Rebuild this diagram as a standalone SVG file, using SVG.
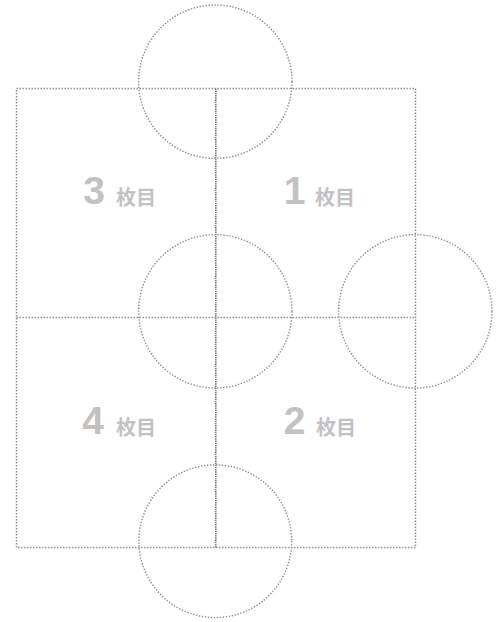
<svg xmlns="http://www.w3.org/2000/svg" width="504" height="622" viewBox="0 0 504 622">
<style>
.dot{fill:none;stroke:#8c8c8c;stroke-width:1.4;stroke-dasharray:1.4 1.6}
.vline{fill:none;stroke:#7a7a7a;stroke-width:1.6;stroke-dasharray:1.4 0.8}
.num{font-family:"Liberation Sans",Arial,sans-serif;font-weight:bold;font-size:39px;fill:#c2c2c2;text-anchor:middle}
.lbl{font-family:"Noto Sans CJK JP","Noto Sans",sans-serif;font-weight:bold;font-size:20px;fill:#c2c2c2}
</style>
<rect width="504" height="622" fill="#ffffff"/>
<g id="connectors">
<rect class="dot" x="16.5" y="88.5" width="399" height="459"/>
<line class="dot" x1="16.5" y1="317.5" x2="415.5" y2="317.5"/>
<line class="vline" x1="215.8" y1="88.5" x2="215.8" y2="547.5"/>
</g>
<g id="circle-top"><circle class="dot" cx="215.3" cy="81.7" r="76.7"/></g>
<g id="circle-center"><circle class="dot" cx="215.3" cy="311.3" r="76.7"/></g>
<g id="circle-right"><circle class="dot" cx="415.3" cy="311.3" r="76.7"/></g>
<g id="circle-bottom"><circle class="dot" cx="215.3" cy="541.2" r="76.4"/></g>
<g id="sheet3"><text class="num" x="94" y="203.5">3</text><text class="lbl" x="116" y="204.5">枚目</text></g>
<g id="sheet1"><text class="num" x="294.5" y="203.5">1</text><text class="lbl" x="315" y="204.5">枚目</text></g>
<g id="sheet4"><text class="num" x="93" y="433.5">4</text><text class="lbl" x="116" y="434.5">枚目</text></g>
<g id="sheet2"><text class="num" x="294.5" y="433.5">2</text><text class="lbl" x="316" y="434.5">枚目</text></g>
</svg>
